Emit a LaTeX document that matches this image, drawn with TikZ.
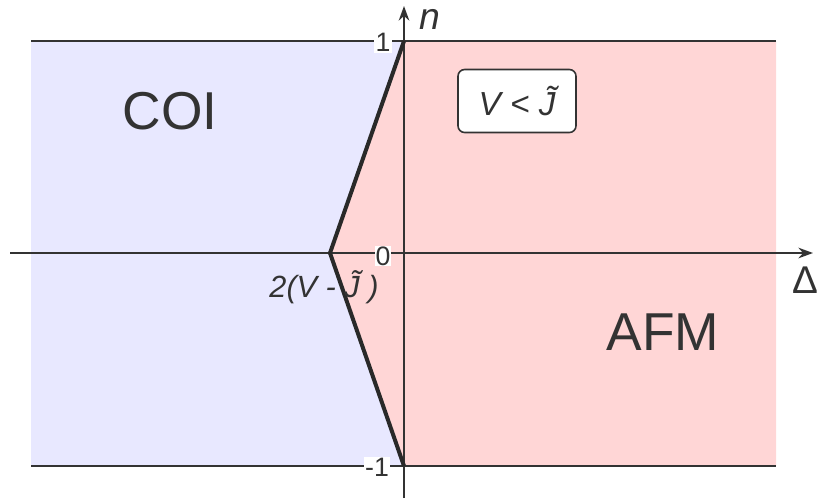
\documentclass[tikz,border=0pt]{standalone}
\usepackage{fontspec}
\setmainfont{Liberation Sans}
\usetikzlibrary{arrows.meta}
\definecolor{coiblue}{HTML}{E8E8FF}
\definecolor{afmpink}{HTML}{FFD6D6}
\definecolor{axisgray}{HTML}{333333}
\tikzset{
  thinline/.style={draw=axisgray, line width=1.2pt},
  axisline/.style={draw=axisgray, line width=1.2pt, -{Stealth[length=11pt,width=8pt]}},
  boundary/.style={draw=axisgray!80!black, line width=3pt, line join=round},
  ticklabel/.style={font=\fontsize{20}{22}\selectfont, fill=white, inner sep=1pt, text=axisgray},
  biglabel/.style={font=\fontsize{40}{44}\selectfont, text=axisgray},
}
\begin{document}
\begin{tikzpicture}[x=0.75pt,y=-0.75pt]
\useasboundingbox (0,0) rectangle (817,500);
% regions
\coordinate (tl) at (31,41);
\coordinate (tm) at (404,41);
\coordinate (tr) at (776,41);
\coordinate (bl) at (31,466);
\coordinate (bm) at (404,466);
\coordinate (br) at (776,466);
\coordinate (tip) at (330,253);
\fill[coiblue] (tl) -- (tm) -- (tip) -- (bm) -- (bl) -- cycle;
\fill[afmpink] (tm) -- (tr) -- (br) -- (bm) -- (tip) -- cycle;
% horizontal boundary lines
\draw[thinline] (tl) -- (tr);
\draw[thinline] (bl) -- (br);
% axes
\coordinate (xs) at (10,253);
\coordinate (xe) at (813,253);
\coordinate (ys) at (404,498);
\coordinate (ye) at (404,6);
\draw[axisline] (xs) -- (xe);
\draw[axisline] (ys) -- (ye);
% phase boundary
\draw[boundary] (tm) -- (tip) -- (bm);
% labels
\node[ticklabel] (one) at (383,42) {1};
\node[ticklabel, inner sep=0.5pt] (zero) at (383,256) {0};
\node[ticklabel] (mone) at (377,467) {-1};
\node[font=\fontsize{28}{30}\selectfont\itshape, text=axisgray] (n) at (430,19) {n};
\node[font=\fontsize{29}{32}\selectfont, text=axisgray] (delta) at (805,280) {Δ};
\node[font=\fontsize{23}{26}\selectfont\itshape, text=axisgray, inner sep=0pt] (gap) at (324,287) {2(V - \~{J} )};
\node[biglabel] (coi) at (170,111) {COI};
\node[biglabel] (afm) at (663,332) {AFM};
\node[draw=axisgray, line width=1.2pt, fill=white, rounded corners=5pt,
      minimum width=118*0.75pt, minimum height=63*0.75pt,
      font=\fontsize{25}{27}\selectfont\itshape, text=axisgray] (cond) at (517,101) {V < \~{J}};
\end{tikzpicture}
\end{document}
